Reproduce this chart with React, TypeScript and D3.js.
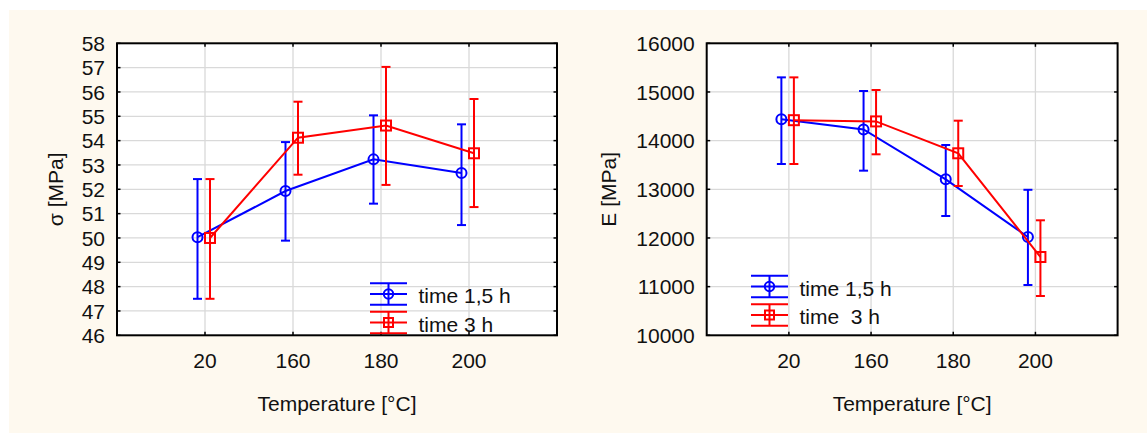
import React from "react";
import * as d3 from "d3";

const categories = ["20", "160", "180", "200"];

// σ [MPa]
const sigma15Mean = [50.03, 51.93, 53.23, 52.67];
const sigma15Low = [47.5, 49.89, 51.41, 50.53];
const sigma15High = [52.42, 53.94, 55.04, 54.67];
const sigma3Mean = [50.0, 54.12, 54.62, 53.48];
const sigma3Low = [47.5, 52.6, 52.18, 51.27];
const sigma3High = [52.42, 55.6, 57.03, 55.71];

// E [MPa]
const e15Mean = [14440, 14230, 13205, 12020];
const e15Low = [13520, 13383, 12451, 11034];
const e15High = [15300, 15020, 13910, 12990];
const e3Mean = [14420, 14395, 13740, 11609];
const e3Low = [13520, 13719, 13068, 10808];
const e3High = [15300, 15040, 14410, 12363];

const sigmaTicks = [46, 47, 48, 49, 50, 51, 52, 53, 54, 55, 56, 57, 58];
const eTicks = [10000, 11000, 12000, 13000, 14000, 15000, 16000];

const BLUE = "#0000ff";
const RED = "#ff0000";
const FONT = "'Liberation Sans', Arial, sans-serif";
const FS = 21;

type Series = { mean: number[]; low: number[]; high: number[]; color: string; marker: "circle" | "square"; offset: number; label: string };

function Panel(props: {
  left: number; right: number; top: number; bottom: number;
  yDomain: [number, number]; yTicks: number[]; yLabel: string; yLabelX: number;
  series: Series[]; legendX: number; legendY: number; legendTextX: number;
}) {
  const { left, right, top, bottom, yDomain, yTicks, yLabel, yLabelX, series, legendX, legendY, legendTextX } = props;
  const x = d3.scaleLinear().domain([0, categories.length + 1]).range([left, right]);
  const y = d3.scaleLinear().domain(yDomain).range([bottom, top]);
  const cap = 4.5;
  const tick = 3.5;
  const r = 5;
  const line = d3.line<[number, number]>().x((d) => d[0]).y((d) => d[1]);
  return (
    <g>
      <rect x={left} y={top} width={right - left} height={bottom - top} fill="#ffffff" />
      {yTicks.slice(1, -1).map((t) => (
        <line key={"gy" + t} x1={left} x2={right} y1={y(t)} y2={y(t)} stroke="#d9d9d9" strokeWidth={1.3} />
      ))}
      {categories.map((c, i) => (
        <line key={"gx" + c} x1={x(i + 1)} x2={x(i + 1)} y1={top} y2={bottom} stroke="#d9d9d9" strokeWidth={1.3} />
      ))}
      {yTicks.map((t) => (
        <g key={"ty" + t}>
          <line x1={left} x2={left + tick} y1={y(t)} y2={y(t)} stroke="#000" strokeWidth={1.5} />
          <line x1={right - tick} x2={right} y1={y(t)} y2={y(t)} stroke="#000" strokeWidth={1.5} />
          <text x={left - 12} y={y(t)} dy="0.36em" textAnchor="end" fontSize={FS} fontFamily={FONT} fill="#111">{t}</text>
        </g>
      ))}
      {categories.map((c, i) => (
        <g key={"tx" + c}>
          <line x1={x(i + 1)} x2={x(i + 1)} y1={bottom - tick} y2={bottom} stroke="#000" strokeWidth={1.5} />
          <line x1={x(i + 1)} x2={x(i + 1)} y1={top} y2={top + tick} stroke="#000" strokeWidth={1.5} />
          <text x={x(i + 1)} y={368} textAnchor="middle" fontSize={FS} fontFamily={FONT} fill="#111">{c}</text>
        </g>
      ))}
      {series.map((s, si) => {
        const pts: [number, number][] = s.mean.map((m, i) => [x(i + 1) + s.offset, y(m)]);
        return (
          <g key={"s" + si}>
            {s.mean.map((m, i) => {
              const cx = x(i + 1) + s.offset;
              return (
                <g key={i} stroke={s.color} strokeWidth={2}>
                  <line x1={cx} x2={cx} y1={y(s.low[i])} y2={y(s.high[i])} />
                  <line x1={cx - cap} x2={cx + cap} y1={y(s.low[i])} y2={y(s.low[i])} />
                  <line x1={cx - cap} x2={cx + cap} y1={y(s.high[i])} y2={y(s.high[i])} />
                </g>
              );
            })}
            <path d={line(pts) || ""} fill="none" stroke={s.color} strokeWidth={2} />
            {pts.map((p, i) =>
              s.marker === "circle" ? (
                <circle key={"m" + i} cx={p[0]} cy={p[1]} r={r} fill="none" stroke={s.color} strokeWidth={2} />
              ) : (
                <rect key={"m" + i} x={p[0] - r} y={p[1] - r} width={2 * r} height={2 * r} fill="none" stroke={s.color} strokeWidth={2} />
              )
            )}
          </g>
        );
      })}
      {series.map((s, si) => {
        const cy = legendY + si * 28.5;
        const hw = 18.5;
        return (
          <g key={"lg" + si}>
            <g stroke={s.color} strokeWidth={2}>
              <line x1={legendX - hw} x2={legendX + hw} y1={cy - 10.7} y2={cy - 10.7} />
              <line x1={legendX - hw} x2={legendX + hw} y1={cy} y2={cy} />
              <line x1={legendX - hw} x2={legendX + hw} y1={cy + 10.7} y2={cy + 10.7} />
              <line x1={legendX} x2={legendX} y1={cy - 10.7} y2={cy + 10.7} />
              {s.marker === "circle" ? (
                <circle cx={legendX} cy={cy} r={4.7} fill="none" />
              ) : (
                <rect x={legendX - 4.5} y={cy - 4.5} width={9} height={9} fill="none" />
              )}
            </g>
            <text x={legendTextX} y={cy + 9} fontSize={FS} fontFamily={FONT} fill="#111" style={{ whiteSpace: "pre" }}>{s.label}</text>
          </g>
        );
      })}
      <rect x={left} y={top} width={right - left} height={bottom - top} fill="none" stroke="#000" strokeWidth={2} />
      <text transform={`translate(${yLabelX},${(top + bottom) / 2}) rotate(-90)`} textAnchor="middle" dy="0.36em" fontSize={FS} fontFamily={FONT} fill="#111">{yLabel}</text>
      <text x={(left + right) / 2} y={411} textAnchor="middle" fontSize={FS} fontFamily={FONT} fill="#111">Temperature [°C]</text>
    </g>
  );
}

export default function App() {
  return (
    <svg width={1147} height={433} style={{ position: "absolute", left: 0, top: 0, background: "#ffffff" }}>
      <rect x={9} y={10} width={1138} height={423} fill="#fef9ef" />
      <Panel
        left={117} right={557} top={43.3} bottom={335.3}
        yDomain={[46, 58]} yTicks={sigmaTicks} yLabel="σ [MPa]" yLabelX={55}
        series={[
          { mean: sigma15Mean, low: sigma15Low, high: sigma15High, color: BLUE, marker: "circle", offset: -7.5, label: "time 1,5 h" },
          { mean: sigma3Mean, low: sigma3Low, high: sigma3High, color: RED, marker: "square", offset: 5, label: "time 3 h" },
        ]}
        legendX={388.5} legendY={294} legendTextX={418.5}
      />
      <Panel
        left={706.7} right={1117.6} top={43.3} bottom={335.3}
        yDomain={[10000, 16000]} yTicks={eTicks} yLabel="E [MPa]" yLabelX={608}
        series={[
          { mean: e15Mean, low: e15Low, high: e15High, color: BLUE, marker: "circle", offset: -7.5, label: "time 1,5 h" },
          { mean: e3Mean, low: e3Low, high: e3High, color: RED, marker: "square", offset: 5, label: "time  3 h" },
        ]}
        legendX={769.5} legendY={286.5} legendTextX={799.5}
      />
    </svg>
  );
}
